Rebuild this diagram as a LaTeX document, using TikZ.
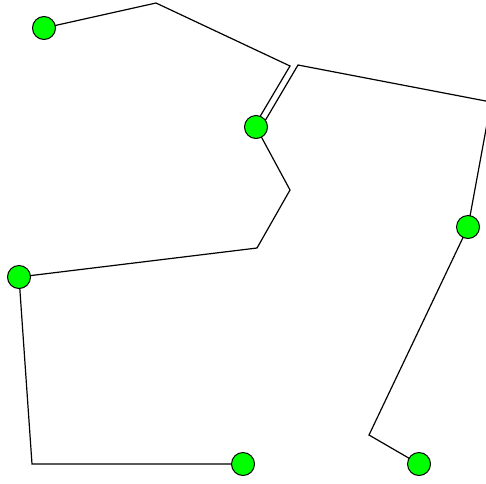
\documentclass[tikz,border=0pt]{standalone}
\begin{document}
\begin{tikzpicture}[x=1pt,y=-1pt,
  dot/.style={circle,draw=black,line width=1pt,fill=green,minimum size=23pt,inner sep=0pt},
  wire/.style={draw=black,line width=1.2pt,line join=miter}]
\useasboundingbox (0,0) rectangle (486,483);
\clip (0,0) rectangle (486,483);
% bends
\coordinate (a1) at (156,3);
\coordinate (a2) at (290,66);
\coordinate (a3) at (255,125);
\coordinate (b1) at (298,65);
\coordinate (b2) at (491,102);
\coordinate (b3) at (262,126);
\coordinate (c1) at (369,435);
\coordinate (d1) at (290,190);
\coordinate (d2) at (257,248);
\coordinate (e1) at (32,464);
% nodes (placed first so edges can refer to them)
\path (44,28) coordinate (p1) (256,127) coordinate (p2) (468,227) coordinate (p3)
      (19,277) coordinate (p4) (243,464) coordinate (p5) (419,464) coordinate (p6);
% edges
\path[wire] (p1) -- (a1) -- (a2) -- (a3);
\path[wire] (b3) -- (b1) -- (b2) -- (p3);
\path[wire] (p3) -- (c1) -- (p6);
\path[wire] (p2) -- (d1) -- (d2) -- (p4);
\path[wire] (p4) -- (e1) -- (p5);
% nodes
\node[dot] (n1) at (p1) {};
\node[dot] (n2) at (p2) {};
\node[dot] (n3) at (p3) {};
\node[dot] (n4) at (p4) {};
\node[dot] (n5) at (p5) {};
\node[dot] (n6) at (p6) {};
\end{tikzpicture}
\end{document}
